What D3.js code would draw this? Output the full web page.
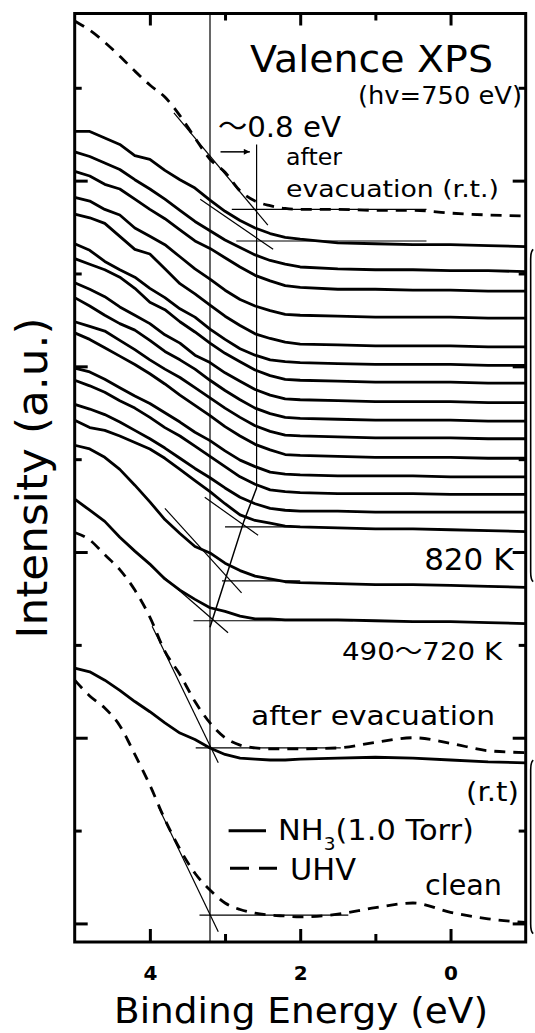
<!DOCTYPE html>
<html>
<head>
<meta charset="utf-8">
<script src="https://cdn.jsdelivr.net/npm/d3@7"></script>
<style>
  html, body { margin: 0; padding: 0; background: #fff; }
  svg { display: block; }
  text { font-family: "DejaVu Sans", "Noto Sans CJK JP", sans-serif; fill: #000; }
</style>
</head>
<body>
<svg id="chart" width="535" height="1033"></svg>
<script>
// binding energy grid (eV), shared by all spectra
var energy = [5.0, 4.8, 4.6, 4.4, 4.2, 4.0, 3.8, 3.6, 3.4, 3.2, 3.0, 2.8, 2.6, 2.4, 2.2, 2.0, 1.5, 1.0, 0.5, 0.0, -0.5, -1.0];

// NH3 (1.0 Torr) spectra, 490 K ... 820 K, top to bottom: offset (a.u.) of the flat part
var nh3Offsets = [7.29, 7.02, 6.81, 6.52, 6.21, 6.01, 5.82, 5.61, 5.41, 5.22, 5.01, 4.81, 4.62, 4.43, 4.22, 3.62, 3.23];

// intensity above that offset (a.u.)
var nh3Spectra = [
  [1.24, 1.24, 1.17, 1.10, 0.98, 0.94, 0.82, 0.72, 0.63, 0.50, 0.38, 0.28, 0.20, 0.14, 0.10, 0.08, 0.04, 0.03, 0.02, 0.02, 0.01, 0],
  [1.29, 1.24, 1.17, 1.10, 0.99, 0.89, 0.78, 0.66, 0.54, 0.44, 0.34, 0.26, 0.18, 0.12, 0.08, 0.05, 0.03, 0.02, 0.02, 0.01, 0.01, 0],
  [1.29, 1.24, 1.15, 1.10, 0.99, 0.88, 0.78, 0.66, 0.54, 0.46, 0.36, 0.26, 0.17, 0.11, 0.06, 0.04, 0.02, 0.02, 0.01, 0.01, 0, 0],
  [1.30, 1.26, 1.17, 1.11, 0.97, 0.88, 0.79, 0.66, 0.53, 0.42, 0.30, 0.20, 0.13, 0.08, 0.04, 0.03, 0.02, 0.01, 0.01, 0.01, 0, 0],
  [1.43, 1.39, 1.33, 1.19, 1.05, 1.00, 0.84, 0.68, 0.57, 0.45, 0.33, 0.23, 0.14, 0.09, 0.05, 0.03, 0.02, 0.01, 0.01, 0.01, 0, 0],
  [1.31, 1.24, 1.12, 1.03, 0.95, 0.83, 0.73, 0.61, 0.52, 0.39, 0.28, 0.18, 0.11, 0.06, 0.04, 0.03, 0.02, 0.01, 0.01, 0.01, 0, 0],
  [1.34, 1.28, 1.22, 1.14, 1.02, 0.87, 0.79, 0.66, 0.55, 0.43, 0.32, 0.23, 0.14, 0.08, 0.04, 0.03, 0.02, 0.01, 0.01, 0.01, 0, 0],
  [1.29, 1.22, 1.14, 1.03, 0.94, 0.85, 0.73, 0.64, 0.51, 0.43, 0.32, 0.23, 0.14, 0.08, 0.04, 0.03, 0.02, 0.01, 0.01, 0.01, 0, 0],
  [1.33, 1.24, 1.14, 1.05, 0.98, 0.87, 0.75, 0.66, 0.56, 0.44, 0.33, 0.23, 0.14, 0.08, 0.04, 0.03, 0.02, 0.01, 0.01, 0.01, 0, 0],
  [1.26, 1.21, 1.16, 1.06, 0.96, 0.85, 0.75, 0.66, 0.55, 0.44, 0.33, 0.23, 0.14, 0.08, 0.04, 0.03, 0.02, 0.01, 0.01, 0.01, 0, 0],
  [1.35, 1.28, 1.19, 1.10, 1.01, 0.91, 0.80, 0.68, 0.57, 0.46, 0.34, 0.24, 0.15, 0.09, 0.04, 0.03, 0.02, 0.01, 0.01, 0.01, 0, 0],
  [1.17, 1.13, 1.05, 0.96, 0.87, 0.79, 0.69, 0.59, 0.48, 0.39, 0.28, 0.18, 0.11, 0.05, 0.03, 0.02, 0.01, 0.01, 0.01, 0, 0, 0],
  [1.23, 1.17, 1.10, 1.01, 0.93, 0.83, 0.72, 0.63, 0.52, 0.41, 0.30, 0.19, 0.11, 0.05, 0.03, 0.02, 0.01, 0.01, 0.01, 0, 0, 0],
  [1.16, 1.11, 1.05, 0.97, 0.88, 0.79, 0.69, 0.58, 0.47, 0.37, 0.26, 0.16, 0.09, 0.04, 0.02, 0.01, 0.01, 0, 0, 0, 0, 0],
  [1.20, 1.12, 1.09, 1.03, 0.96, 0.89, 0.79, 0.67, 0.55, 0.43, 0.30, 0.18, 0.12, 0.09, 0.06, 0.05, 0.04, 0.03, 0.03, 0.02, 0.01, 0],
  [1.53, 1.49, 1.40, 1.27, 1.10, 0.92, 0.73, 0.58, 0.44, 0.37, 0.26, 0.18, 0.12, 0.09, 0.06, 0.05, 0.04, 0.03, 0.03, 0.02, 0.01, 0],
  [1.34, 1.22, 1.10, 0.93, 0.78, 0.64, 0.48, 0.36, 0.26, 0.17, 0.13, 0.08, 0.05, 0.05, 0.04, 0.04, 0.04, 0.03, 0.02, 0.02, 0.01, 0]
];

// UHV after evacuation at r.t. (top dashed)
var uhvEvacTop = [9.72, 9.62, 9.49, 9.34, 9.18, 9.03, 8.90, 8.70, 8.46, 8.23, 8.09, 7.89, 7.78, 7.73, 7.70, 7.69, 7.69, 7.68, 7.68, 7.65, 7.63, 7.62];
// lower group
var uhvEvac   = [4.21, 4.13, 3.97, 3.81, 3.59, 3.30, 2.93, 2.68, 2.39, 2.16, 2.00, 1.92, 1.89, 1.88, 1.88, 1.88, 1.89, 1.95, 2.00, 1.94, 1.86, 1.84];
var nh3Evac   = [2.75, 2.71, 2.62, 2.51, 2.39, 2.28, 2.16, 2.05, 1.98, 1.89, 1.82, 1.78, 1.77, 1.76, 1.76, 1.77, 1.78, 1.79, 1.78, 1.76, 1.74, 1.73];
var uhvClean  = [2.62, 2.45, 2.32, 2.13, 1.82, 1.49, 1.12, 0.80, 0.54, 0.36, 0.22, 0.15, 0.11, 0.09, 0.08, 0.07, 0.10, 0.17, 0.22, 0.12, 0.05, 0.01];

// leading-edge construction: baselines [E from, E to, level] and tangents [[E, I], [E, I]]
var baselines = [[2.91, 0.32, 7.69], [2.85, 0.32, 7.35], [3.00, 2.0, 4.27], [3.04, 2.0, 3.69], [3.42, 1.30, 3.26], [3.39, 1.46, 1.89], [3.34, 1.36, 0.09]];
var tangents = [
  [[3.68, 8.73], [2.43, 7.52]],
  [[3.33, 7.80], [2.36, 7.26]],
  [[3.27, 4.59], [2.56, 4.18]],
  [[3.80, 4.47], [2.78, 3.56]],
  [[4.00, 3.86], [2.96, 3.13]],
  [[3.97, 3.20], [3.09, 1.73]],
  [[3.89, 1.26], [3.09, -0.09]]
];
var edgeLines = [
  [[3.2, 9.8], [3.2, -0.2]],
  [[2.58, 8.39], [2.58, 4.69]]
];
var edgeShift = [[2.58, 4.69], [2.75, 4.33], [3.2, 3.19]];
var shiftArrow = [[3.06, 8.31], [2.67, 8.31]];
var groupBrackets = [[7.26, 3.68], [1.76, -0.11]];

var majorE = [4, 2, 0], minorE = [3, 1];
var majorI = [0, 2, 4, 6, 8], minorI = [1, 3, 5, 7, 9];

var svg = d3.select("#chart");
svg.append("rect").attr("width", 535).attr("height", 1033).attr("fill", "#fff");

var x = d3.scaleLinear().domain([5, -1]).range([74.7, 525.7]);
var y = d3.scaleLinear().domain([-0.2, 9.8]).range([942, 13.5]);

var line = d3.line().x(function(d) { return x(d[0]); }).y(function(d) { return y(d[1]); });
var smooth = d3.line().x(function(d) { return x(d[0]); }).y(function(d) { return y(d[1]); }).curve(d3.curveMonotoneX);

function pts(values) {
  return energy.map(function(e, i) { return [e, values[i]]; });
}

// thin construction lines
var thin = svg.append("g").attr("fill", "none").attr("stroke", "#000").attr("stroke-width", 1.2);
edgeLines.forEach(function(l) { thin.append("path").attr("d", line(l)); });
thin.append("path").attr("d", line(edgeShift)).attr("stroke-width", 1.5);
baselines.forEach(function(b) { thin.append("path").attr("d", line([[b[0], b[2]], [b[1], b[2]]])); });
tangents.forEach(function(t) { thin.append("path").attr("d", line(t)); });

// arrow for the ~0.8 eV shift
svg.append("defs").append("marker")
  .attr("id", "head").attr("viewBox", "0 0 10 10").attr("refX", 10).attr("refY", 5)
  .attr("markerWidth", 9).attr("markerHeight", 6).attr("markerUnits", "userSpaceOnUse")
  .attr("orient", "auto")
  .append("path").attr("d", "M0,0L10,5L0,10Z").attr("fill", "#000");
thin.append("path").attr("d", line(shiftArrow)).attr("stroke-width", 1.5).attr("marker-end", "url(#head)");

// spectra
var curves = svg.append("g").attr("fill", "none").attr("stroke", "#000")
  .attr("stroke-width", 2.8).attr("stroke-linejoin", "round");

nh3Spectra.forEach(function(s, k) {
  curves.append("path").attr("d", line(pts(s.map(function(v) { return v + nh3Offsets[k]; }))));
});
curves.append("path").attr("d", line(pts(nh3Evac)));

[uhvEvacTop, uhvEvac, uhvClean].forEach(function(s) {
  curves.append("path").attr("d", smooth(pts(s))).attr("stroke-dasharray", "11,8");
});

// frame
svg.append("rect")
  .attr("x", x(5)).attr("y", y(9.8))
  .attr("width", x(-1) - x(5)).attr("height", y(-0.2) - y(9.8))
  .attr("fill", "none").attr("stroke", "#000").attr("stroke-width", 3);

// inward ticks on all four sides
function ticks(axis, tr, vals, size) {
  var g = svg.append("g").attr("transform", tr)
    .call(axis.tickValues(vals).tickSize(size).tickFormat(""));
  g.select(".domain").remove();
  g.selectAll("line").attr("stroke-width", 3);
  return g;
}
ticks(d3.axisBottom(x), "translate(0," + y(-0.2) + ")", minorE, -8);
ticks(d3.axisTop(x), "translate(0," + y(9.8) + ")", majorE, -12);
ticks(d3.axisTop(x), "translate(0," + y(9.8) + ")", minorE, -7);
ticks(d3.axisLeft(y), "translate(" + x(5) + ",0)", majorI, -13);
ticks(d3.axisLeft(y), "translate(" + x(5) + ",0)", minorI, -7);
ticks(d3.axisRight(y), "translate(" + x(-1) + ",0)", majorI, -13);
ticks(d3.axisRight(y), "translate(" + x(-1) + ",0)", minorI, -7);

var bx = svg.append("g").attr("transform", "translate(0," + y(-0.2) + ")")
  .call(d3.axisBottom(x).tickValues(majorE).tickSize(-13).tickPadding(24).tickFormat(d3.format("d")));
bx.select(".domain").remove();
bx.selectAll("line").attr("stroke-width", 3);
bx.selectAll("text").attr("font-family", "DejaVu Sans").attr("font-weight", "bold").attr("font-size", 20);

// group brackets at the right edge
groupBrackets.forEach(function(b) {
  var x0 = x(-1.10), x1 = x(-1.066), t = y(b[0]), btm = y(b[1]);
  svg.append("path")
    .attr("d", "M" + x0 + "," + t + "Q" + x1 + "," + (t + 2) + " " + x1 + "," + (t + 10) +
      "L" + x1 + "," + (btm - 10) + "Q" + x1 + "," + (btm - 2) + " " + x0 + "," + btm)
    .attr("fill", "none").attr("stroke", "#000").attr("stroke-width", 1.6);
});

// texts
function label(t, px, py, size, len, anchor) {
  var el = svg.append("text").attr("x", px).attr("y", py).attr("font-size", size).text(t);
  if (len) el.attr("textLength", len).attr("lengthAdjust", "spacingAndGlyphs");
  if (anchor) el.attr("text-anchor", anchor);
  return el;
}
label("Valence XPS", 250, 72, 38, 243);
label("(hv=750 eV)", 358, 104, 24, 164);
label("\u301C0.8 eV", 218, 137, 29, 123);
label("after", 286, 165, 23, 56);
label("evacuation (r.t.)", 286, 197, 23, 213);
label("820 K", 513.5, 570, 31, null, "end");
label("490\u301C720 K", 342, 660, 25, 160);
label("after evacuation", 251, 725, 26, 244);
label("(r.t)", 466, 801, 26, 53);
label("UHV", 290, 880, 30, 66);
label("clean", 425, 895, 28, 77);

// NH3 legend label with subscript, as one text
var nh3Label = svg.append("text").attr("x", 278).attr("y", 840).attr("font-size", 28)
  .attr("textLength", 196).attr("lengthAdjust", "spacingAndGlyphs");
nh3Label.append("tspan").text("NH");
nh3Label.append("tspan").attr("font-size", 17).attr("dy", 10).text("3");
nh3Label.append("tspan").attr("dy", -10).text("(1.0 Torr)");

// legend swatches
svg.append("line").attr("x1", 228.6).attr("x2", 266).attr("y1", 830.7).attr("y2", 830.7)
  .attr("stroke", "#000").attr("stroke-width", 3);
svg.append("line").attr("x1", 230).attr("x2", 277).attr("y1", 868.3).attr("y2", 868.3)
  .attr("stroke", "#000").attr("stroke-width", 3).attr("stroke-dasharray", "19,10");

// axis titles
label("Binding Energy (eV)", 114, 1023, 36, 374);
svg.append("text")
  .attr("transform", "translate(47,478) rotate(-90)")
  .attr("text-anchor", "middle").attr("font-size", 43)
  .attr("textLength", 321).attr("lengthAdjust", "spacingAndGlyphs")
  .text("Intensity (a.u.)");
</script>
</body>
</html>
